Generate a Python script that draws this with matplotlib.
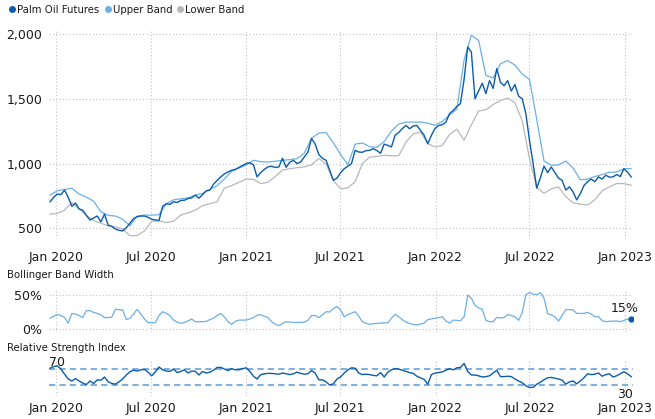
import matplotlib
matplotlib.use("Agg")
import matplotlib.pyplot as plt
import matplotlib.dates as mdates
from matplotlib.lines import Line2D
import pandas as pd

# weekly series (price, band width, RSI) and bi-weekly Bollinger bands
weeks = pd.date_range("2019-12-20", periods=161, freq="7D")
biweeks = pd.date_range("2019-12-20", periods=81, freq="14D")

price = [
    705, 740, 765, 760, 795, 740, 670, 695, 650, 640,
    600, 564, 580, 595, 550, 610, 525, 515, 495, 485,
    480, 505, 540, 575, 590, 595, 595, 585, 570, 565,
    560, 670, 690, 685, 705, 700, 715, 717, 730, 735,
    756, 733, 760, 790, 795, 840, 870, 897, 920, 935,
    948, 955, 970, 985, 1000, 1005, 990, 897, 930, 955,
    975, 979, 970, 974, 1041, 971, 1010, 1025, 1000, 1012,
    1050, 1089, 1194, 1150, 1070, 1040, 1025, 948, 871, 887,
    930, 960, 979, 1000, 1102, 1089, 1087, 1100, 1102, 1115,
    1100, 1079, 1150, 1140, 1128, 1218, 1240, 1270, 1294, 1269,
    1290, 1294, 1256, 1218, 1153, 1218, 1271, 1294, 1300, 1320,
    1386, 1410, 1440, 1463, 1650, 1900, 1860, 1500, 1560, 1620,
    1540, 1640, 1580, 1733, 1627, 1600, 1640, 1560, 1610, 1520,
    1500, 1386, 1180, 1000, 810, 890, 980, 930, 974, 930,
    887, 870, 795, 820, 780, 720, 768, 830, 860, 880,
    860, 897, 880, 910, 895, 897, 915, 900, 960, 935,
    897,
]

upper_band = [
    756, 790, 800, 810, 765, 740, 710, 628, 600, 595,
    570, 520, 595, 602, 602, 605, 690, 720, 728, 735,
    756, 770, 800, 830, 880, 940, 965, 990, 1025, 1015,
    1012, 1018, 1025, 1030, 1038, 1080, 1195, 1235, 1240, 1160,
    1070, 990, 1150, 1159, 1130, 1125, 1170, 1250, 1305, 1320,
    1320, 1320, 1312, 1295, 1325, 1375, 1420, 1800, 1990, 1950,
    1680, 1660, 1770, 1795, 1760, 1690, 1650, 1340, 1020, 987,
    990, 1020, 965, 875, 880, 900, 915, 932, 935, 960,
    962,
]

lower_band = [
    610, 615, 640, 700, 650, 600, 560, 540, 518, 512,
    495, 442, 445, 480, 555, 558, 545, 555, 602, 620,
    640, 675, 690, 705, 810, 830, 855, 880, 878, 846,
    855, 900, 950, 960, 968, 974, 990, 1040, 995, 870,
    805, 812, 860, 1000, 1050, 1055, 1064, 1060, 1060, 1166,
    1230, 1243, 1153, 1128, 1140, 1225, 1265, 1180, 1300, 1405,
    1415, 1455, 1487, 1505, 1470, 1330, 1040, 815, 770, 805,
    820, 745, 697, 687, 680, 720, 790, 820, 846, 845,
    833,
]

band_width = [
    16, 19, 21.5, 20, 17, 9, 23, 22, 20, 17,
    27, 27, 24.5, 23, 21, 17, 17, 17.5, 29, 28.5,
    28, 14, 16, 22, 29, 22, 15, 9.6, 9.6, 9.6,
    20, 25.5, 23, 20, 13.4, 10.5, 8.7, 10, 12, 14.9,
    11, 11, 11, 11.5, 14, 16, 20, 23, 18, 11,
    7.2, 11.5, 13.4, 13.4, 13.4, 15, 16.8, 20.5, 21, 19,
    17, 11, 7.5, 5.3, 8.5, 11, 10.5, 10, 10, 10,
    10.5, 13, 20, 20, 17, 21, 25.5, 25, 30, 33,
    28, 18, 21.5, 23.5, 25.5, 19, 11, 8.5, 7.3, 8,
    8.7, 9, 9.3, 9.6, 16, 21.7, 18, 14, 10.5, 8.5,
    7, 6.2, 7.5, 9, 14, 15, 16, 17, 18, 12,
    9, 13.4, 13, 12.5, 18, 49.6, 45, 35, 31, 29,
    13, 11, 11, 17.3, 16.5, 17, 21.5, 20, 18.2, 13,
    24, 50, 53, 51, 50, 53, 45, 22.5, 21, 18,
    12, 20, 28.5, 28.5, 28, 23, 23, 23, 24.5, 22,
    18, 18.5, 12.5, 11, 11.5, 12, 12, 11, 13, 14.5,
    15.2,
]

rsi = [
    72, 76, 78, 70, 57, 45, 40, 46, 40, 35,
    31, 40, 34, 43, 42, 50, 38, 34, 32, 38,
    45, 55, 63, 67, 65, 68, 69, 62, 53, 63,
    75, 68, 65, 64, 70, 61, 64, 68, 60, 65,
    64, 55, 64, 60, 62, 67, 74, 74, 70, 66,
    71, 68, 68, 71, 73, 64, 52, 45, 56, 58,
    59, 59, 58, 57, 60, 58, 56, 58, 62, 59,
    57, 58, 66, 60, 43, 43, 38, 30, 33, 45,
    50, 60, 68, 73, 72, 60, 56, 57, 56, 54,
    53, 61, 50, 62, 68, 71, 70, 67, 64, 61,
    59, 52, 48, 44, 32, 56, 60, 61, 63, 67,
    71, 68, 73, 74, 84, 64, 55, 55, 53, 50,
    51, 53, 60, 67, 51, 51, 52, 51, 45, 40,
    36, 28, 24, 24, 32, 37, 43, 48, 49, 47,
    45, 42, 32, 38, 40, 33, 40, 48, 58, 56,
    57, 60, 52, 56, 58, 50, 53, 58, 63, 58,
    51,
]

rsi_levels = [70, 30]
price_ticks = [500, 1000, 1500, 2000]
width_ticks = [0, 50]

DARK = "#0b5cad"
LIGHT = "#6cb0e6"
GREY = "#b8b8b8"
TXT = "#1a1a1a"
GRID = "#c4c4c4"

plt.rcParams["font.family"] = ["DejaVu Sans"]

fig = plt.figure(figsize=(6.55, 4.19), dpi=100)
xlim = (pd.Timestamp("2019-12-18"), pd.Timestamp("2023-01-16"))

ax = fig.add_axes([0.0748, 0.4303, 0.8912, 0.4979])
ax_w = fig.add_axes([0.0748, 0.2074, 0.8912, 0.1024])
ax_r = fig.add_axes([0.0748, 0.0544, 0.8912, 0.0840])


def style(a, pad_x):
    a.set_xlim(*xlim)
    for s in a.spines.values():
        s.set_visible(False)
    a.xaxis.set_major_locator(mdates.MonthLocator(bymonth=[1, 7]))
    a.xaxis.set_major_formatter(mdates.DateFormatter("%b %Y"))
    a.tick_params(length=0, labelsize=9, colors=TXT, pad=5)
    a.tick_params(axis="x", pad=pad_x)
    a.grid(True, axis="x", color=GRID, linestyle=(0, (1, 2)), linewidth=0.8)
    a.set_axisbelow(True)


# main price panel
style(ax, 9)
ax.plot(biweeks, lower_band, color=GREY, lw=0.9)
ax.plot(biweeks, upper_band, color=LIGHT, lw=0.9)
ax.plot(weeks, price, color=DARK, lw=1.0)
ax.set_ylim(420, 2030)
ax.set_yticks(price_ticks)
ax.set_yticklabels([f"{v:,}" for v in price_ticks])
ax.grid(True, axis="y", color=GRID, linestyle=(0, (1, 2)), linewidth=0.8)

# band width panel
style(ax_w, 0)
ax_w.tick_params(axis="x", labelbottom=False)
ax_w.plot(weeks, band_width, color=LIGHT, lw=0.9)
ax_w.plot(weeks[-1], band_width[-1], "o", color=DARK, ms=3.5)
ax_w.annotate(f"{band_width[-1]:.0f}%", (weeks[-1], band_width[-1]),
              xytext=(-5, 3), textcoords="offset points",
              ha="center", va="bottom", fontsize=9, color=TXT)
ax_w.set_ylim(-4, 58)
ax_w.set_yticks(width_ticks)
ax_w.set_yticklabels([f"{v}%" for v in width_ticks])
ax_w.grid(True, axis="y", color=GRID, linestyle=(0, (1, 2)), linewidth=0.8)
fig.text(0.011, 1 - 275 / 419, "Bollinger Band Width", fontsize=7.3,
         color=TXT, va="center", ha="left")

# RSI panel
style(ax_r, 4)
for lvl in rsi_levels:
    ax_r.axhline(lvl, color="#7fb2e0", lw=1.5, linestyle=(0, (3, 2)))
ax_r.plot(weeks, rsi, color=DARK, lw=1.0)
ax_r.set_ylim(2, 90)
ax_r.set_yticks([])
ax_r.text(0, rsi_levels[0], "70", transform=ax_r.get_yaxis_transform(),
          ha="left", va="bottom", fontsize=9, color=TXT)
ax_r.annotate("30", (1, rsi_levels[1]), xycoords=ax_r.get_yaxis_transform(),
              xytext=(0, -2), textcoords="offset points",
              ha="right", va="top", fontsize=9, color=TXT)
fig.text(0.011, 1 - 348 / 419, "Relative Strength Index", fontsize=7.3,
         color=TXT, va="center", ha="left")

handles = [
    Line2D([], [], marker="o", ls="", color=DARK, ms=4),
    Line2D([], [], marker="o", ls="", color=LIGHT, ms=4),
    Line2D([], [], marker="o", ls="", color=GREY, ms=4),
]
fig.legend(handles, ["Palm Oil Futures", "Upper Band", "Lower Band"],
           loc="upper left", bbox_to_anchor=(0.0, 1.01), ncol=3,
           frameon=False, fontsize=7.3, handlelength=0.6,
           handletextpad=0.2, columnspacing=0.5, labelcolor=TXT)

fig.savefig("out.png", dpi=100)
